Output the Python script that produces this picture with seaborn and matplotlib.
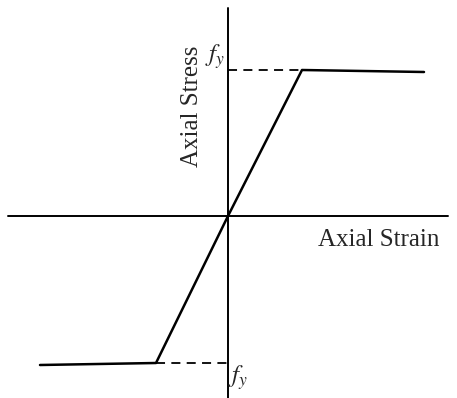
import pandas as pd
import matplotlib
matplotlib.use("Agg")
import matplotlib.pyplot as plt
import seaborn as sns

# =====================================================
# DATA (centred on the origin)
# =====================================================

strain = [-188, -72, 0, 74, 196]
stress = [-149, -147, 0, 146, 144]

yield_strain_pos = 74
yield_strain_neg = -72
yield_stress_pos = 146
yield_stress_neg = -147

x_axis_label = "Axial Strain"
y_axis_label = "Axial Stress"
yield_label = r"$f_y$"

# =====================================================
# STYLE
# =====================================================

sns.set_style("white")
plt.rcParams["font.family"] = ["Liberation Serif", "DejaVu Serif"]
plt.rcParams["mathtext.fontset"] = "stix"

fig = plt.figure(figsize=(4.57, 3.98), dpi=100)
ax = fig.add_axes([0, 0, 1, 1])

df = pd.DataFrame({"strain": strain, "stress": stress})

# =====================================================
# COORDINATE AXES
# =====================================================

ax.plot([-220, 220], [0, 0], color="black", linewidth=1.4)
ax.plot([0, 0], [-182, 208], color="black", linewidth=1.4)

# =====================================================
# STRESS-STRAIN CURVE
# =====================================================

sns.lineplot(
    data=df,
    x="strain",
    y="stress",
    color="black",
    linewidth=1.8,
    sort=False,
    ax=ax
)

# yield guides
ax.plot([0, yield_strain_pos], [yield_stress_pos, yield_stress_pos],
        color="black", linewidth=1.3, linestyle=(0, (5, 3.5)))
ax.plot([yield_strain_neg, 0], [yield_stress_neg, yield_stress_neg],
        color="black", linewidth=1.3, linestyle=(0, (5, 3.5)))

# =====================================================
# LABELS
# =====================================================

ax.text(151, -24, x_axis_label, fontsize=18, ha="center", va="center")
ax.text(-36, 110, y_axis_label, fontsize=18, rotation=90,
        ha="center", va="center")
ax.text(-13, 159, yield_label, fontsize=18, ha="center", va="center")
ax.text(10, -162, yield_label, fontsize=18, ha="center", va="center")

ax.set_xlim(-228, 229)
ax.set_ylim(-182, 216)
ax.set_axis_off()

plt.savefig("out.png", dpi=100)
plt.close()
